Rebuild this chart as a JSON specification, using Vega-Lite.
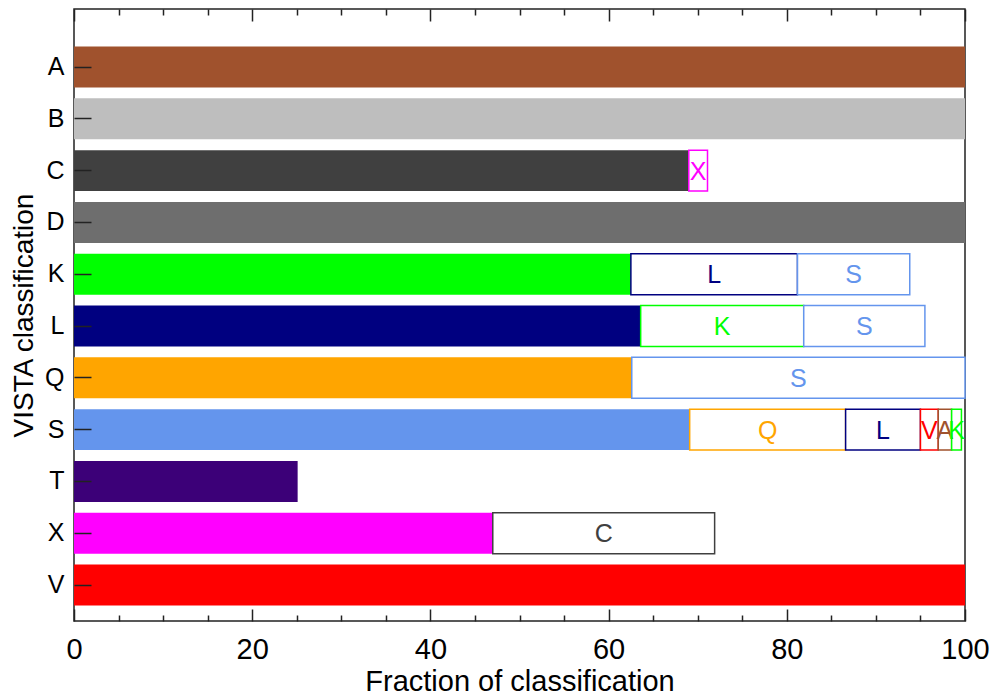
{
  "$schema": "https://vega.github.io/schema/vega-lite/v6.json",
  "width": 891,
  "height": 612,
  "autosize": {"type": "none"},
  "padding": {"left": 74, "top": 9, "right": 31, "bottom": 77},
  "background": "white",
  "config": {
    "view": {"stroke": "#222222", "strokeWidth": 1.5},
    "font": "Liberation Sans",
    "axis": {"labelFont": "Liberation Sans", "titleFont": "Liberation Sans", "labelColor": "#000", "titleColor": "#000", "titleFontWeight": "normal", "domainColor": "#222222", "tickColor": "#222222"}
  },
  "data": {
    "values": [
      {"cls": "A", "seg": "A", "start": 0, "end": 100, "kind": "main"},
      {"cls": "B", "seg": "B", "start": 0, "end": 100, "kind": "main"},
      {"cls": "C", "seg": "C", "start": 0, "end": 69.0, "kind": "main"},
      {"cls": "C", "seg": "X", "start": 69.0, "end": 71.1, "kind": "other"},
      {"cls": "D", "seg": "D", "start": 0, "end": 100, "kind": "main"},
      {"cls": "K", "seg": "K", "start": 0, "end": 62.5, "kind": "main"},
      {"cls": "K", "seg": "L", "start": 62.5, "end": 81.2, "kind": "other"},
      {"cls": "K", "seg": "S", "start": 81.2, "end": 93.8, "kind": "other"},
      {"cls": "L", "seg": "L", "start": 0, "end": 63.6, "kind": "main"},
      {"cls": "L", "seg": "K", "start": 63.6, "end": 81.9, "kind": "other"},
      {"cls": "L", "seg": "S", "start": 81.9, "end": 95.5, "kind": "other"},
      {"cls": "Q", "seg": "Q", "start": 0, "end": 62.6, "kind": "main"},
      {"cls": "Q", "seg": "S", "start": 62.6, "end": 100, "kind": "other"},
      {"cls": "S", "seg": "S", "start": 0, "end": 69.1, "kind": "main"},
      {"cls": "S", "seg": "Q", "start": 69.1, "end": 86.6, "kind": "other"},
      {"cls": "S", "seg": "L", "start": 86.6, "end": 95.0, "kind": "other"},
      {"cls": "S", "seg": "V", "start": 95.0, "end": 97.0, "kind": "other"},
      {"cls": "S", "seg": "A", "start": 97.0, "end": 98.5, "kind": "other"},
      {"cls": "S", "seg": "K", "start": 98.5, "end": 99.6, "kind": "other"},
      {"cls": "T", "seg": "T", "start": 0, "end": 25.1, "kind": "main"},
      {"cls": "X", "seg": "X", "start": 0, "end": 47.0, "kind": "main"},
      {"cls": "X", "seg": "C", "start": 47.0, "end": 71.9, "kind": "other"},
      {"cls": "V", "seg": "V", "start": 0, "end": 100, "kind": "main"}
    ]
  },
  "encoding": {
    "y": {
      "field": "cls",
      "type": "nominal",
      "sort": ["A", "B", "C", "D", "K", "L", "Q", "S", "T", "X", "V"],
      "scale": {"paddingInner": 0.21, "paddingOuter": 0.512, "align": 0.708},
      "axis": {
        "orient": "left",
        "tickSize": -17,
        "tickWidth": 1.5,
        "domain": false,
        "labelFontSize": 25,
        "labelPadding": 27,
        "labelAngle": 0,
        "title": "VISTA classification",
        "titleFontSize": 28,
        "titlePadding": 6,
        "zindex": 1
      }
    }
  },
  "layer": [
    {
      "transform": [{"filter": "datum.kind === 'main'"}],
      "mark": {"type": "bar"},
      "encoding": {
        "x": {
          "field": "start",
          "type": "quantitative",
          "scale": {"domain": [0, 100], "nice": false, "zero": false},
          "axis": {
            "orient": "bottom",
            "values": [0, 5, 10, 15, 20, 25, 30, 35, 40, 45, 50, 55, 60, 65, 70, 75, 80, 85, 90, 95, 100],
            "labelExpr": "datum.value % 20 === 0 ? datum.label : ''",
            "tickSize": {"condition": {"test": "datum.value % 20 === 0", "value": -12}, "value": -6},
            "tickWidth": 1.5,
            "domain": false,
            "labelFontSize": 29,
            "labelPadding": 26,
            "labelFlush": false,
            "labelOverlap": false,
            "title": "Fraction of classification",
            "titleFontSize": 29,
            "titlePadding": -3,
            "grid": false
          }
        },
        "x2": {"field": "end"},
        "fill": {
          "field": "seg",
          "type": "nominal",
          "scale": {
            "domain": ["A", "B", "C", "D", "K", "L", "Q", "S", "T", "X", "V"],
            "range": ["#a0522d", "#bebebe", "#404040", "#6e6e6e", "#00ff00", "#000080", "#ffa500", "#6495ed", "#3c0078", "#ff00ff", "#ff0000"]
          },
          "legend": null
        }
      }
    },
    {
      "transform": [{"filter": "datum.kind === 'other'"}],
      "mark": {"type": "bar", "fill": "white", "strokeWidth": 1.5},
      "encoding": {
        "x": {"field": "start", "type": "quantitative", "axis": {
            "orient": "top",
            "values": [0, 5, 10, 15, 20, 25, 30, 35, 40, 45, 50, 55, 60, 65, 70, 75, 80, 85, 90, 95, 100],
            "labels": false,
            "domain": false,
            "tickSize": {"condition": {"test": "datum.value % 20 === 0", "value": -12}, "value": -6},
            "tickWidth": 1.5,
            "title": null,
            "grid": false
          }},
        "x2": {"field": "end"},
        "stroke": {
          "field": "seg",
          "type": "nominal",
          "scale": {
            "domain": ["A", "B", "C", "D", "K", "L", "Q", "S", "T", "X", "V"],
            "range": ["#a0522d", "#bebebe", "#404040", "#6e6e6e", "#00ff00", "#000080", "#ffa500", "#6495ed", "#3c0078", "#ff00ff", "#ff0000"]
          },
          "legend": null
        }
      }
    },
    {
      "transform": [
        {"filter": "datum.kind === 'other'"},
        {"calculate": "(datum.start + datum.end) / 2", "as": "mid"}
      ],
      "mark": {"type": "text", "fontSize": 25, "font": "Liberation Sans", "baseline": "middle", "align": "center", "dy": 1},
      "encoding": {
        "x": {"field": "mid", "type": "quantitative", "axis": null},
        "text": {"field": "seg"},
        "color": {
          "field": "seg",
          "type": "nominal",
          "scale": {
            "domain": ["A", "B", "C", "D", "K", "L", "Q", "S", "T", "X", "V"],
            "range": ["#a0522d", "#bebebe", "#404040", "#6e6e6e", "#00ff00", "#000080", "#ffa500", "#6495ed", "#3c0078", "#ff00ff", "#ff0000"]
          },
          "legend": null
        }
      }
    }
  ],
  "resolve": {"axis": {"x": "independent"}}
}
